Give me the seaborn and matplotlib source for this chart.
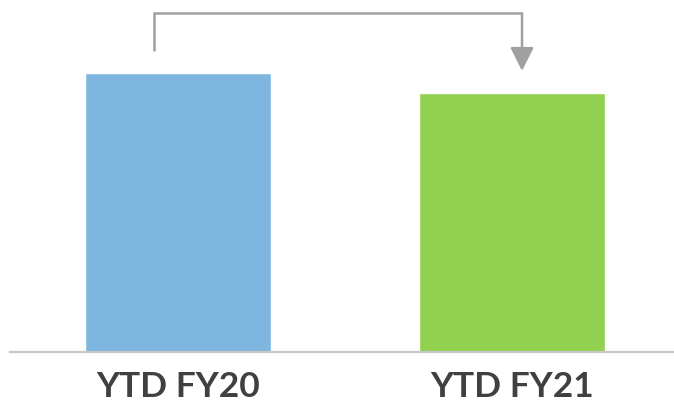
import matplotlib
matplotlib.use("Agg")
import matplotlib.pyplot as plt
import seaborn as sns
import pandas as pd

# Year-to-date totals
periods = ["YTD FY20", "YTD FY21"]
totals = [14.0, 13.0]
bar_colors = ["#7fb6df", "#92d050"]

df = pd.DataFrame({"period": periods, "total": totals})

sns.set_theme(style="white")
plt.rcParams["font.family"] = ["Lato", "DejaVu Sans"]

fig = plt.figure(figsize=(6.74, 4.08), dpi=100)
ax = fig.add_axes([10 / 674, 56 / 408, 664 / 674, 352 / 408])

sns.barplot(data=df, x="period", y="total", hue="period", palette=bar_colors,
            width=0.557, saturation=1, legend=False, ax=ax)

ax.set_xlim(-0.503, 1.485)
ax.set_ylim(0, 17.66)

# Only the baseline is kept
for side in ["top", "right", "left"]:
    ax.spines[side].set_visible(False)
ax.spines["bottom"].set_color("#c8c8c8")
ax.spines["bottom"].set_linewidth(1.6)
ax.set_yticks([])
ax.set_xlabel("")
ax.set_ylabel("")
ax.tick_params(axis="x", length=0, pad=14)
for lbl in ax.get_xticklabels():
    lbl.set_fontsize(25.5)
    lbl.set_fontweight("bold")
    lbl.set_color("#404040")

# Connector from FY20 to FY21
gray = "#a0a0a0"
x_start, x_end = -0.072, 1.03
y_start = totals[0] + 1.1
y_top = max(totals) + 3.0
y_tip = totals[1] + 1.1
ax.plot([x_start, x_start, x_end], [y_start, y_top, y_top],
        color=gray, lw=1.8, solid_capstyle="butt", solid_joinstyle="miter",
        clip_on=False)
ax.annotate("", xy=(x_end, y_tip), xytext=(x_end, y_top),
            arrowprops=dict(arrowstyle="-|>,head_length=0.9,head_width=0.45",
                            color=gray, lw=1.8, shrinkA=0, shrinkB=0,
                            mutation_scale=16),
            annotation_clip=False)

fig.savefig("out.png", dpi=100)
